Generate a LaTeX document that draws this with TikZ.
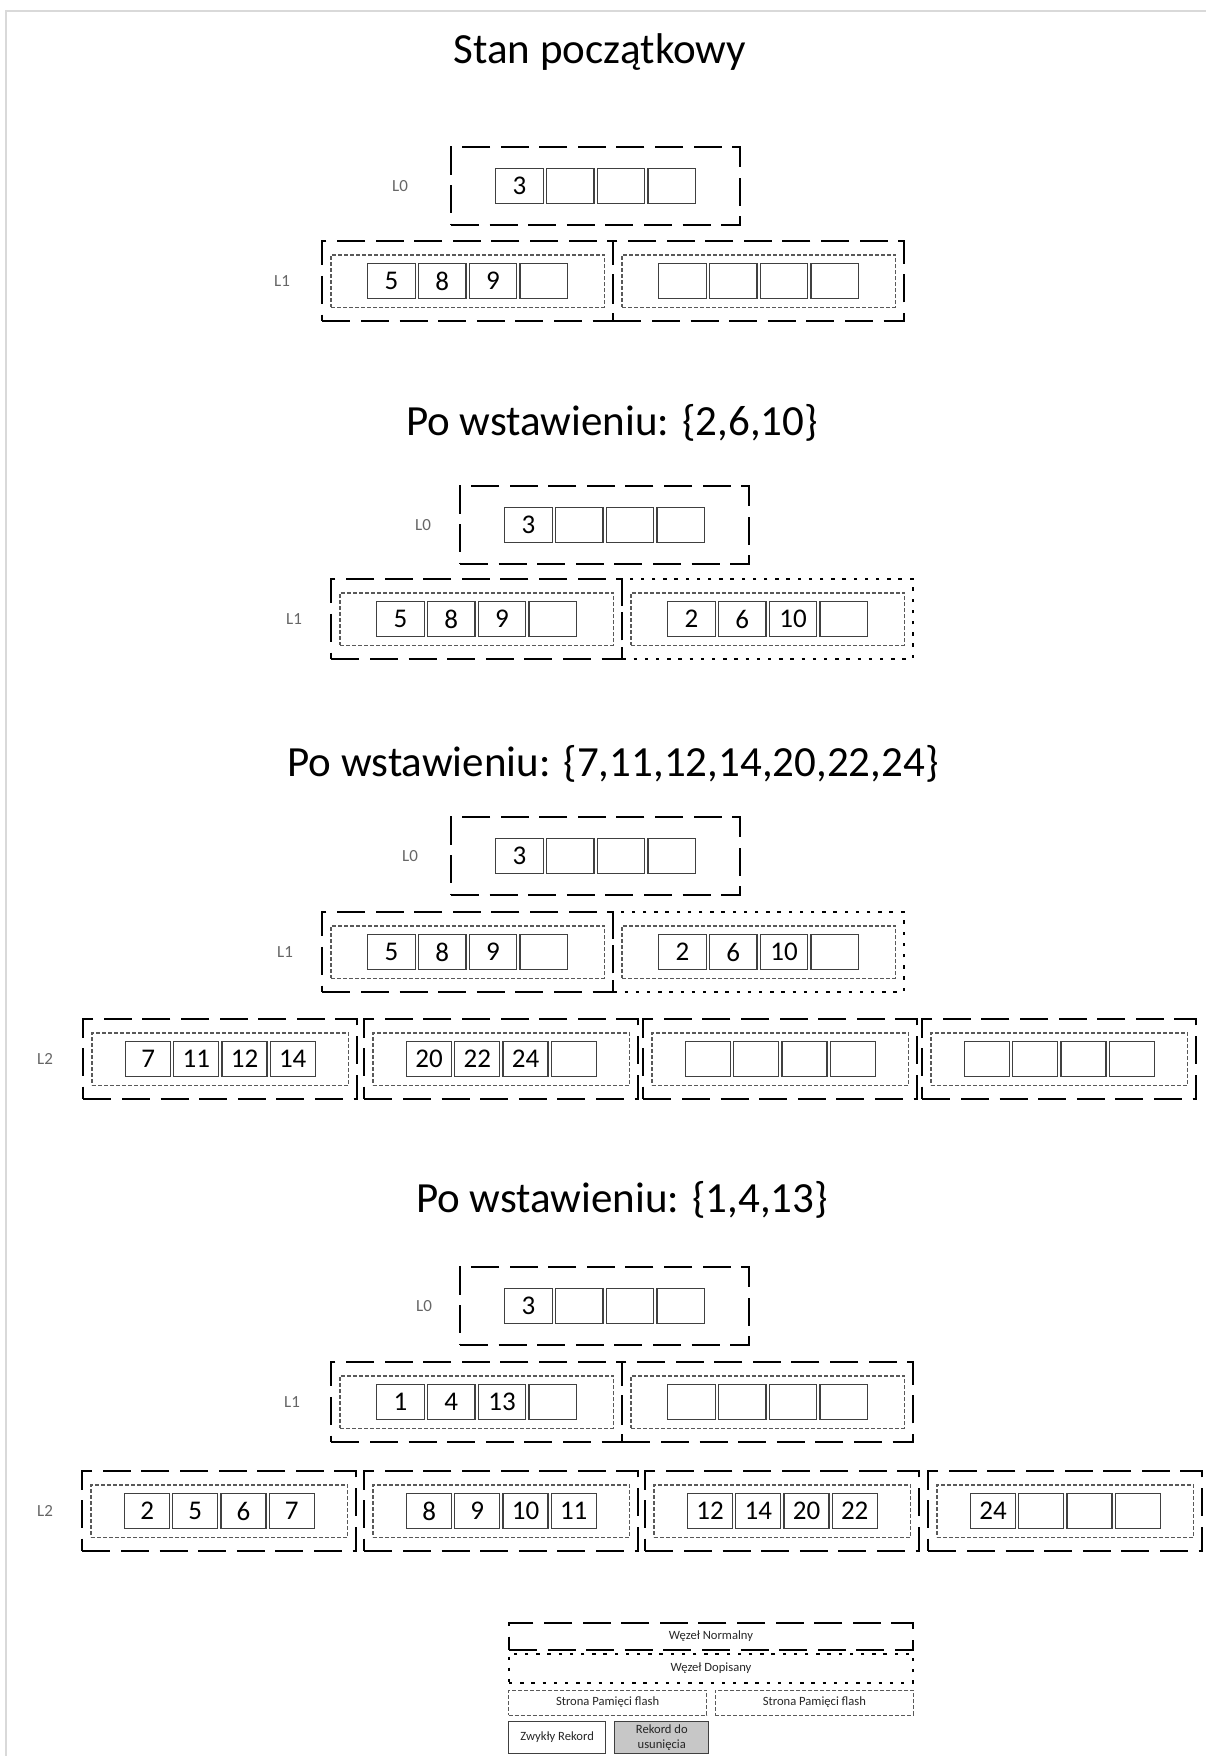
\documentclass[tikz,border=0pt]{standalone}
\usepackage{fontspec}
\setmainfont{Carlito}
\usetikzlibrary{positioning, fit}

\newcommand{\rekordy}[5]{%
  \foreach \v [count=\i] in {#5} {%
    \ifnum\i=1
      \node (#2-\i) [#1, anchor=west] at (#3,#4) {\v};
    \else
      \pgfmathtruncatemacro{\j}{\i-1}
      \node (#2-\i) [#1, right=of #2-\j] {\v};
    \fi
  }%
}
\newcommand{\wezel}[6][rekord]{%
  \rekordy{#1}{#2}{#3}{#4}{#6}
  \node (#2-s) [strona, #1 strona, fit=(#2-1)(#2-4)] {};
  \node (#2) [#5, fit=(#2-s)] {};
}

\begin{document}
\begin{tikzpicture}[
    x=0.5pt, y=-0.5pt,
    node distance=1pt,
    rekord/.style={draw=black!75, line width=0.6pt, minimum width=23.8pt, minimum height=17.5pt, inner sep=0pt, font=\fontsize{13.5}{16}\selectfont},
    rekord2/.style={rekord, minimum width=22.5pt},
    wezel/.style={draw, line width=1pt, inner xsep=4pt, inner ysep=6.5pt},
    normalny/.style={wezel, dash pattern=on 14pt off 5.3pt},
    dopisany/.style={wezel, dash pattern=on 1.7pt off 3.9pt},
    korzen/.style={normalny, inner xsep=22pt, inner ysep=10.5pt},
    strona/.style={draw=black!65, line width=0.6pt, dash pattern=on 2pt off 1pt, inner xsep=18pt, inner ysep=4pt},
    rekord strona/.style={},
    rekord2 strona/.style={inner xsep=16.5pt},
    tytul/.style={anchor=base, font=\fontsize{21.5}{26}\selectfont},
    etykieta/.style={text=black!60, font=\fontsize{8.5}{10}\selectfont},
    legenda/.style={inner sep=0pt, align=center, text=black!85, font=\fontsize{6.3}{7.5}\selectfont},
    usun/.style={fill=black!22}
]
\useasboundingbox (0,0) rectangle (1206,1756);
\draw [black!15, line width=0.75pt] (6,1756) -- (6,11) -- (1206,11);

% Initial state
\node (t1) [tytul] at (600,63) {Stan początkowy};
\rekordy{rekord}{a0}{495}{186}{3,{},{},{}}
\node (a0) [korzen, fit=(a0-1)(a0-4)] {};
\wezel{a1}{367}{281}{normalny}{5,8,9,{}}
\wezel{a2}{658}{281}{normalny}{{},{},{},{}}
\node (a-l0) [etykieta] at (400,186) {L0};
\node (a-l1) [etykieta] at (282,281) {L1};

% After first insert
\node (t2) [tytul] at (612,435) {Po wstawieniu: \{2,6,10\}};
\rekordy{rekord}{b0}{504}{525}{3,{},{},{}}
\node (b0) [korzen, fit=(b0-1)(b0-4)] {};
\wezel{b1}{376}{619}{normalny}{5,8,9,{}}
\wezel{b2}{667}{619}{dopisany}{2,6,10,{}}
\node (b-l0) [etykieta] at (423,525) {L0};
\node (b-l1) [etykieta] at (294,619) {L1};

% After second insert
\node (t3) [tytul] at (613,776) {Po wstawieniu: \{7,11,12,14,20,22,24\}};
\rekordy{rekord}{c0}{495}{856}{3,{},{},{}}
\node (c0) [korzen, fit=(c0-1)(c0-4)] {};
\wezel{c1}{367}{952}{normalny}{5,8,9,{}}
\wezel{c2}{658}{952}{dopisany}{2,6,10,{}}
\wezel[rekord2]{c3}{125}{1059}{normalny}{7,11,12,14}
\wezel[rekord2]{c4}{406}{1059}{normalny}{20,22,24,{}}
\wezel[rekord2]{c5}{685}{1059}{normalny}{{},{},{},{}}
\wezel[rekord2]{c6}{964}{1059}{normalny}{{},{},{},{}}
\node (c-l0) [etykieta] at (410,856) {L0};
\node (c-l1) [etykieta] at (285,952) {L1};
\node (c-l2) [etykieta] at (45,1059) {L2};

% After third insert
\node (t4) [tytul] at (622,1212) {Po wstawieniu: \{1,4,13\}};
\rekordy{rekord}{d0}{504}{1306}{3,{},{},{}}
\node (d0) [korzen, fit=(d0-1)(d0-4)] {};
\wezel{d1}{376}{1402}{normalny}{1,4,13,{}}
\wezel{d2}{667}{1402}{normalny}{{},{},{},{}}
\wezel[rekord2]{d3}{124}{1511}{normalny}{2,5,6,7}
\wezel[rekord2]{d4}{406}{1511}{normalny}{8,9,10,11}
\wezel[rekord2]{d5}{687}{1511}{normalny}{12,14,20,22}
\wezel[rekord2]{d6}{970}{1511}{normalny}{24,{},{},{}}
\node (d-l0) [etykieta] at (424,1306) {L0};
\node (d-l1) [etykieta] at (292,1402) {L1};
\node (d-l2) [etykieta] at (45,1511) {L2};

% Legend
\node (lg-n) [normalny, legenda, minimum width=202pt, minimum height=13.5pt] at (711,1636) {Węzeł Normalny};
\node (lg-d) [dopisany, legenda, minimum width=202pt, minimum height=14.5pt, below=of lg-n] {Węzeł Dopisany};
\node (lg-s1) [strona, legenda, minimum width=99pt, minimum height=12.5pt, below right=3pt and 0pt of lg-d.south west] {Strona Pamięci flash};
\node (lg-s2) [strona, legenda, minimum width=99pt, minimum height=12.5pt, below left=3pt and 0pt of lg-d.south east] {Strona Pamięci flash};
\node (lg-r1) [rekord, legenda, minimum width=48.5pt, minimum height=16pt, below right=2.5pt and 0pt of lg-s1.south west] {Zwykły Rekord};
\node (lg-r2) [rekord, legenda, usun, minimum width=47pt, minimum height=16pt, right=4pt of lg-r1] {Rekord do\\usunięcia};

\end{tikzpicture}
\end{document}
